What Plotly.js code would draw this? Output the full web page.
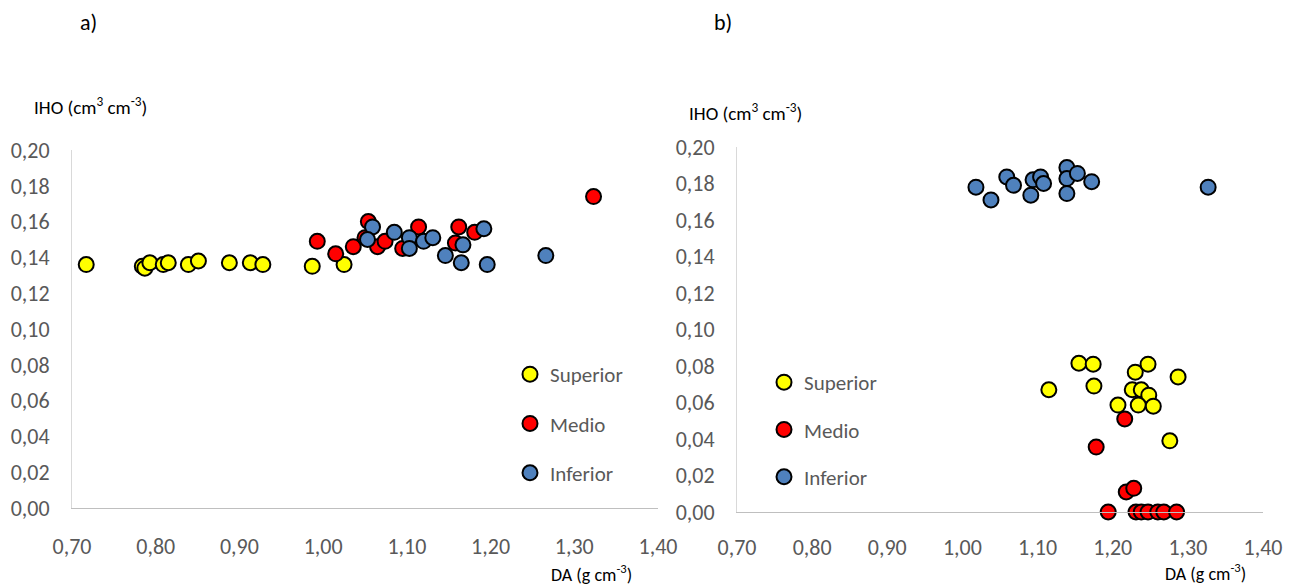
<!DOCTYPE html>
<html>
<head>
<meta charset="utf-8">
<script src="https://cdn.plot.ly/plotly-3.0.1.min.js"></script>
<style>html,body{margin:0;padding:0;background:#fff;}#chart{width:1300px;height:588px;}</style>
</head>
<body>
<div id="chart"></div>
<script>
// ---- Data (a) ----
const seriesNames = ["Superior", "Medio", "Inferior"];
const aSupX = [0.717,0.784,0.787,0.793,0.809,0.815,0.839,0.851,0.888,0.913,0.928,0.987,1.025];
const aSupY = [0.136,0.135,0.134,0.137,0.136,0.137,0.136,0.138,0.137,0.137,0.136,0.135,0.136];
const aMedX = [0.993,1.015,1.036,1.054,1.050,1.065,1.074,1.095,1.114,1.158,1.162,1.181,1.323];
const aMedY = [0.149,0.142,0.146,0.160,0.151,0.146,0.149,0.145,0.157,0.148,0.157,0.154,0.174];
const aInfX = [1.059,1.053,1.085,1.103,1.103,1.120,1.131,1.146,1.167,1.165,1.192,1.196,1.266];
const aInfY = [0.157,0.150,0.154,0.151,0.145,0.149,0.151,0.141,0.147,0.137,0.156,0.136,0.141];
// ---- Data (b) ----
const bSupX = [1.115,1.155,1.174,1.175,1.230,1.247,1.287,1.226,1.238,1.248,1.207,1.234,1.254,1.276];
const bSupY = [0.067,0.0815,0.081,0.069,0.0766,0.081,0.074,0.067,0.067,0.064,0.0586,0.0586,0.058,0.039];
const bMedX = [1.216,1.178,1.218,1.228,1.194,1.231,1.238,1.247,1.260,1.268,1.285];
const bMedY = [0.051,0.0356,0.011,0.013,0,0,0,0,0,0,0];
const bInfX = [1.018,1.038,1.059,1.068,1.091,1.094,1.104,1.108,1.139,1.139,1.139,1.153,1.172,1.327];
const bInfY = [0.178,0.171,0.1836,0.179,0.1736,0.182,0.1836,0.180,0.1887,0.1827,0.1745,0.1855,0.181,0.178];

const colors = ["#FFFF00", "#FF0000", "#4F81BD"];
const FONT = "Carlito, Lato, 'Open Sans', sans-serif";

function tr(x, y, i, ax, leg, grp) {
  return {
    type: "scatter", mode: "markers", x: x, y: y, name: seriesNames[i],
    xaxis: ax[0], yaxis: ax[1], legend: leg, legendgroup: grp,
    cliponaxis: false, hoverinfo: "x+y",
    marker: {size: 15, color: colors[i], line: {color: "#000000", width: 2}}
  };
}

const data = [
  tr(aSupX, aSupY, 0, ["x","y"], "legend", "a0"),
  tr(aMedX, aMedY, 1, ["x","y"], "legend", "a1"),
  tr(aInfX, aInfY, 2, ["x","y"], "legend", "a2"),
  tr(bSupX, bSupY, 0, ["x2","y2"], "legend2", "b0"),
  tr(bMedX, bMedY, 1, ["x2","y2"], "legend2", "b1"),
  tr(bInfX, bInfY, 2, ["x2","y2"], "legend2", "b2")
];

const W = 1300, H = 588;
function px(x){ return x / W; }
function py(y){ return 1 - y / H; }

const tickFont = {family: FONT, size: 22, color: "#595959"};
const xCommon = {
  range: [0.70, 1.40], dtick: 0.1, tick0: 0.7, tickformat: ".2f",
  showgrid: false, zeroline: false, showline: true, linecolor: "#BFBFBF", linewidth: 1,
  ticks: "", tickfont: tickFont, fixedrange: true
};
const yCommon = {
  range: [0, 0.20], dtick: 0.02, tick0: 0, tickformat: ".2f",
  showgrid: false, zeroline: false, showline: true, linecolor: "#D9D9D9", linewidth: 1,
  ticks: "", ticklabelstandoff: 17, tickfont: tickFont, fixedrange: true
};

const legCommon = {
  traceorder: "grouped", bgcolor: "rgba(0,0,0,0)",
  font: {family: FONT, size: 21, color: "#595959"}, xanchor: "left", yanchor: "top",
  itemclick: false, itemdoubleclick: false
};

const titleFont = {family: FONT, size: 19, color: "#000"};
const daFont = {family: FONT, size: 18, color: "#000"};

const layout = {
  width: W, height: H, margin: {l: 0, r: 0, t: 0, b: 0},
  paper_bgcolor: "#ffffff", plot_bgcolor: "#ffffff",
  separators: ",.", showlegend: true,
  font: {family: FONT},
  xaxis: Object.assign({}, xCommon, {domain: [px(72), px(658)], anchor: "y", ticklabelstandoff: 19}),
  yaxis: Object.assign({}, yCommon, {domain: [py(508), py(150)], anchor: "x"}),
  xaxis2: Object.assign({}, xCommon, {domain: [px(737), px(1263)], anchor: "y2", ticklabelstandoff: 16}),
  yaxis2: Object.assign({}, yCommon, {domain: [py(512), py(147)], anchor: "x2"}),
  legend: Object.assign({}, legCommon, {x: px(510), y: py(354), tracegroupgap: 19}),
  legend2: Object.assign({}, legCommon, {x: px(764), y: py(362), tracegroupgap: 17}),
  annotations: [
    {text: "a)", x: px(78), y: py(22), xref: "paper", yref: "paper", xanchor: "left", yanchor: "middle", showarrow: false, font: {family: FONT, size: 22, color: "#000"}},
    {text: "b)", x: px(712), y: py(22), xref: "paper", yref: "paper", xanchor: "left", yanchor: "middle", showarrow: false, font: {family: FONT, size: 22, color: "#000"}},
    {text: "IHO (cm<sup>3</sup> cm<sup>-3</sup>)", x: px(32), y: py(106), xref: "paper", yref: "paper", xanchor: "left", yanchor: "middle", showarrow: false, font: titleFont},
    {text: "IHO (cm<sup>3</sup> cm<sup>-3</sup>)", x: px(687), y: py(112), xref: "paper", yref: "paper", xanchor: "left", yanchor: "middle", showarrow: false, font: titleFont},
    {text: "DA (g cm<sup>-3</sup>)", x: px(591), y: py(573), xref: "paper", yref: "paper", xanchor: "center", yanchor: "middle", showarrow: false, font: daFont},
    {text: "DA (g cm<sup>-3</sup>)", x: px(1205), y: py(572), xref: "paper", yref: "paper", xanchor: "center", yanchor: "middle", showarrow: false, font: daFont}
  ]
};

Plotly.newPlot("chart", data, layout, {displayModeBar: false});
</script>
</body>
</html>
